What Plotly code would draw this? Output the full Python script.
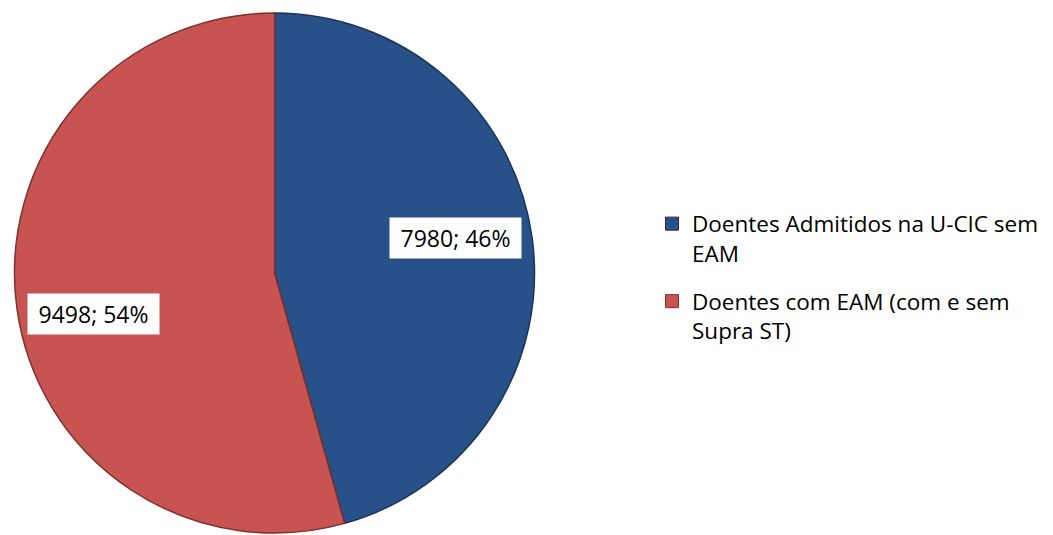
import math
import plotly.graph_objects as go

labels = ["Doentes Admitidos na U-CIC sem<br>EAM", "Doentes com EAM (com e sem<br>Supra ST)"]
values = [7980, 9498]
colors = ["#285089", "#C85451"]
edge_colors = ["#1A3358", "#7E302D"]

W, H = 1053, 535
dom_x = [12 / W, 537 / W]
dom_y = [2 / H, 522 / H]
FONT = "Open Sans, Lato, sans-serif"

fig = go.Figure(go.Pie(
    labels=labels,
    values=values,
    sort=False,
    direction="clockwise",
    rotation=0,
    marker=dict(colors=colors, line=dict(color=edge_colors, width=1.5)),
    textinfo="none",
    hoverinfo="label+value+percent",
    domain=dict(x=dom_x, y=dom_y),
    showlegend=False,
))

# legend entries (one group per slice so the gap between entries can be set)
for i, (lab, col, ec) in enumerate(zip(labels, colors, edge_colors)):
    fig.add_trace(go.Scatter(
        x=[None], y=[None], mode="markers", name=lab,
        legendgroup=f"g{i}", showlegend=True,
        marker=dict(symbol="square", size=13, color=col, line=dict(color=ec, width=1)),
        hoverinfo="skip",
    ))

# data labels placed near slice mid-angles computed from the values
total = sum(values)
cx = (dom_x[0] + dom_x[1]) / 2 * W
cy = (dom_y[0] + dom_y[1]) / 2 * H - 3
R = min((dom_x[1] - dom_x[0]) * W, (dom_y[1] - dom_y[0]) * H) / 2
cum = 0
annots = []
for v in values:
    mid = (cum + v / 2) / total * 2 * math.pi - math.radians(4)
    cum += v
    px = cx + 0.71 * R * math.sin(mid)
    py = cy + 0.71 * R * math.cos(mid)
    annots.append(dict(
        x=px / W, y=py / H, xref="paper", yref="paper",
        xanchor="center", yanchor="middle",
        text=f"{v}; {round(v / total * 100)}%",
        showarrow=False, bgcolor="white", borderpad=6,
        width=119, height=28,
        font=dict(family=FONT, size=23, color="black"),
    ))

fig.update_layout(
    width=W, height=H,
    margin=dict(l=0, r=0, t=0, b=0),
    paper_bgcolor="white", plot_bgcolor="white",
    xaxis=dict(visible=False), yaxis=dict(visible=False),
    annotations=annots,
    showlegend=True,
    legend=dict(
        x=652 / W, y=1 - 277 / H, xanchor="left", yanchor="middle",
        font=dict(family=FONT, size=22.5, color="black"),
        itemwidth=30, tracegroupgap=16, valign="top",
        bgcolor="rgba(0,0,0,0)",
    ),
)

fig.write_html("out.html", config={"displayModeBar": False},
               post_script="document.body.style.margin='0';")
